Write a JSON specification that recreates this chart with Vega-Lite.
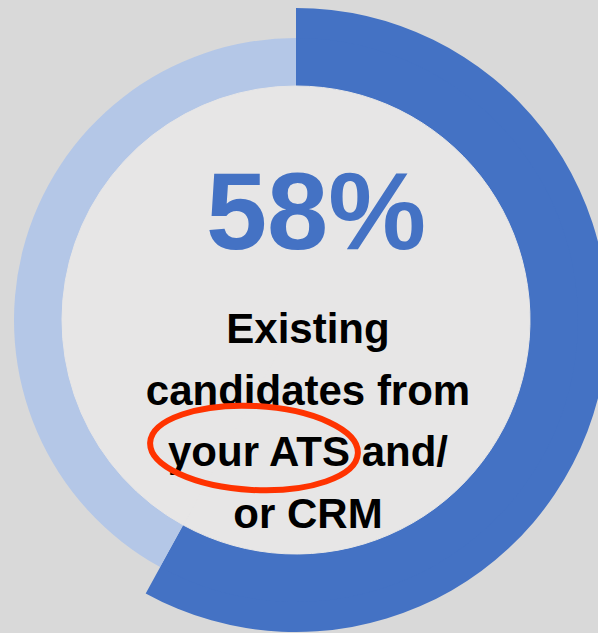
{
  "$schema": "https://vega.github.io/schema/vega-lite/v6.json",
  "autosize": "none",
  "width": 592,
  "height": 626,
  "padding": {"left": 0, "top": 7, "right": 6, "bottom": 0},
  "background": "#d9d9d9",
  "config": {"view": {"stroke": null}},
  "data": {
    "values": [
      {"segment": "Existing candidates", "share": 0.58, "label": "Existing\ncandidates from\nyour ATS and/\nor CRM"},
      {"segment": "Other", "share": 0.42, "label": ""}
    ]
  },
  "layer": [
    {
      "mark": {"type": "arc", "radius": 312, "radius2": 220, "fill": "#4472c4"},
      "encoding": {
        "theta": {"field": "share", "type": "quantitative", "stack": true},
        "order": {"field": "segment", "sort": "ascending"},
        "opacity": {"condition": {"test": "datum.segment === 'Existing candidates'", "value": 1}, "value": 0}
      }
    },
    {
      "mark": {"type": "arc", "radius": 282, "radius2": 220},
      "encoding": {
        "theta": {"field": "share", "type": "quantitative", "stack": true},
        "order": {"field": "segment", "sort": "ascending"},
        "color": {
          "field": "segment",
          "type": "nominal",
          "scale": {"domain": ["Existing candidates", "Other"], "range": ["#4472c4", "#b4c7e7"]},
          "legend": null
        }
      }
    },
    {
      "mark": {"type": "arc", "radius": 234, "fill": "#e7e6e6", "stroke": "#e7e6e6", "strokeWidth": 1},
      "encoding": {
        "theta": {"field": "share", "type": "quantitative", "stack": true}
      }
    },
    {
      "transform": [{"filter": "datum.segment === 'Existing candidates'"}],
      "mark": {"type": "text", "font": "Liberation Sans", "fontWeight": "bold", "fontSize": 110, "color": "#4472c4", "align": "center", "baseline": "alphabetic", "dx": 20, "dy": -71},
      "encoding": {
        "text": {"field": "share", "type": "quantitative", "format": ".0%"}
      }
    },
    {
      "transform": [{"filter": "datum.segment === 'Existing candidates'"}],
      "mark": {"type": "text", "font": "Liberation Sans", "fontWeight": "bold", "fontSize": 42, "color": "#000000", "align": "center", "baseline": "alphabetic", "lineBreak": "\n", "lineHeight": 61.5, "dx": 12, "dy": 23},
      "encoding": {
        "text": {"field": "label", "type": "nominal"}
      }
    },
    {
      "transform": [{"filter": "datum.segment === 'Existing candidates'"}],
      "mark": {
        "type": "point",
        "shape": "M -104 0 A 104 42 0 1 0 104 0 A 104 42 0 1 0 -104 0 Z",
        "size": 4,
        "filled": false,
        "stroke": "#ff3300",
        "strokeWidth": 6,
        "opacity": 1,
        "angle": 3,
        "xOffset": -42,
        "yOffset": 128
      },
      "encoding": {}
    }
  ]
}
